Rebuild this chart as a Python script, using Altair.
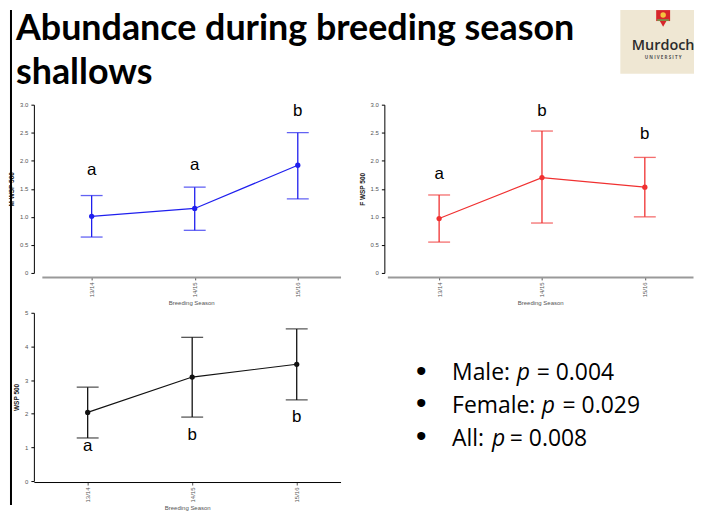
import altair as alt
import pandas as pd

seasons = ["13/14", "14/15", "15/16"]

male_mean = [1.01, 1.15, 1.92]
male_lo = [0.64, 0.76, 1.32]
male_hi = [1.38, 1.53, 2.50]
male_letters = ["a", "a", "b"]
male_letter_y = [1.83, 1.92, 2.88]

female_mean = [0.97, 1.70, 1.53]
female_lo = [0.55, 0.89, 1.00]
female_hi = [1.39, 2.53, 2.06]
female_letters = ["a", "b", "b"]
female_letter_y = [1.76, 2.89, 2.48]

all_mean = [2.04, 3.09, 3.47]
all_lo = [1.28, 1.90, 2.41]
all_hi = [2.79, 4.27, 4.52]
all_letters = ["a", "b", "b"]
all_letter_y = [1.03, 1.38, 1.90]

title_lines = ["Abundance during breeding season", "shallows"]
bullet_labels = ["Male:", "Female:", "All:"]
bullet_values = ["= 0.004", "= 0.029", "= 0.008"]

FONT = "Liberation Sans"


def frame(mean, lo, hi, letters, ly):
    return pd.DataFrame({"season": seasons, "mean": mean, "lo": lo, "hi": hi,
                         "letter": letters, "ly": ly})


def panel(df, color, ytitle, ymax, yvals, rng, pad, align, width, xdom_color,
          xdom_width, xoffset, extra):
    xscale = alt.Scale(type="point", range=rng, padding=pad, align=align)
    xaxis = alt.Axis(title="Breeding Season", labelAngle=270, labelFontSize=6,
                     labelColor="#555", labelFont=FONT, tickSize=3, tickColor="#555",
                     domainColor=xdom_color, domainWidth=xdom_width, offset=xoffset,
                     titleFontSize=6, titleFont=FONT, titleFontWeight="normal",
                     titleColor="#555", titlePadding=3, labelPadding=2, grid=False)
    yscale = alt.Scale(domain=[0, ymax], nice=False, zero=True)
    yaxis = alt.Axis(values=yvals, labelExpr=(
        "datum.value == 0 ? '0' : format(datum.value, '" + (".1f" if ymax == 3 else "d") + "')"),
        labelFontSize=6, labelColor="#555", labelFont=FONT, tickSize=3,
        tickColor="black", domainColor="black", titleFontSize=6.5, titleFont=FONT,
        titleFontWeight="bold", titleColor="#222", titlePadding=5, labelPadding=3,
        grid=False)
    X = alt.X("season:O", sort=seasons, scale=xscale, axis=xaxis, title="Breeding Season")

    def Y(f):
        return alt.Y(f + ":Q", scale=yscale, axis=yaxis, title=ytitle)

    base = alt.Chart(df)
    rules = base.mark_rule(color=color, strokeWidth=1.3).encode(x=X, y=Y("lo"), y2="hi:Q")
    cap_lo = base.mark_tick(color=color, orient="horizontal", size=22, thickness=1.3).encode(x=X, y=Y("lo"))
    cap_hi = base.mark_tick(color=color, orient="horizontal", size=22, thickness=1.3).encode(x=X, y=Y("hi"))
    line = base.mark_line(color=color, strokeWidth=1.2).encode(x=X, y=Y("mean"))
    pts = base.mark_circle(color=color, size=28, opacity=1).encode(x=X, y=Y("mean"))
    letters = base.mark_text(font=FONT, fontSize=17, color="black", baseline="middle").encode(
        x=X, y=Y("ly"), text="letter:N")
    return alt.layer(rules, cap_lo, cap_hi, line, pts, letters, *extra).properties(
        width=width, height=169)


def label(text, x, y, **kw):
    return alt.Chart(pd.DataFrame({"t": [text]})).mark_text(**kw).encode(
        x=alt.value(x), y=alt.value(y), text="t:N")


# decorations for panel 1 (origin at page 32,103)
title1 = label(title_lines[0], -18, -65, font="Lato", fontSize=36, fontWeight="bold",
               align="left", baseline="alphabetic", color="black")
title2 = label(title_lines[1], -18, -21, font="Lato", fontSize=36, fontWeight="bold",
               align="left", baseline="alphabetic", color="black")
border = alt.Chart(pd.DataFrame({"t": [0]})).mark_rule(color="black", strokeWidth=2).encode(
    x=alt.value(-23), y=alt.value(-95), y2=alt.value(402))

# logo for panel 2 (origin at page 384,103)
logo_bg = alt.Chart(pd.DataFrame({"t": [0]})).mark_rect(color="#efe7d3").encode(
    x=alt.value(237), x2=alt.value(311), y=alt.value(-95), y2=alt.value(-31))
shield = alt.Chart(pd.DataFrame({"t": [0]})).mark_rect(color="#d7262b").encode(
    x=alt.value(273), x2=alt.value(287), y=alt.value(-95), y2=alt.value(-84))
shield_tip = alt.Chart(pd.DataFrame({"t": [0]})).mark_point(
    shape="triangle-down", filled=True, color="#d7262b", size=70, opacity=1).encode(
    x=alt.value(280), y=alt.value(-82))
shield_in = alt.Chart(pd.DataFrame({"t": [0]})).mark_point(
    shape="circle", filled=True, color="#f4c23e", size=30, opacity=1).encode(
    x=alt.value(280), y=alt.value(-90))
shield_bar = alt.Chart(pd.DataFrame({"t": [0]})).mark_rule(color="#6aa84f", strokeWidth=1.5).encode(
    x=alt.value(274), x2=alt.value(286), y=alt.value(-85))
logo_t1 = label("Murdoch", 280, -55, font="Open Sans", fontSize=14.5, fontWeight=600,
                align="center", baseline="alphabetic", color="#2b2b2b")
logo_t2 = label("U N I V E R S I T Y", 280, -47, font="Open Sans", fontSize=4.5,
                fontWeight="bold", align="center", baseline="middle", color="#555")

# bullets for panel 3 (origin at page 32,312)
bullets = []
bx = 389
label_x = 420
p_x = [485, 510, 460]
eq_x = [505, 531, 478]
base_y = [68, 101, 134]
dot_y = [60, 92, 125]
for i in range(3):
    bullets.append(label("•", bx, dot_y[i], font="Liberation Sans", fontSize=30, align="center",
                         baseline="middle", color="black"))
    bullets.append(label(bullet_labels[i], label_x, base_y[i], font="Open Sans", fontSize=23,
                         align="left", baseline="alphabetic", color="black"))
    bullets.append(label("p", p_x[i], base_y[i], font="Open Sans", fontSize=23, fontStyle="italic",
                         align="left", baseline="alphabetic", color="black"))
    bullets.append(label(bullet_values[i], eq_x[i], base_y[i], font="Open Sans", fontSize=23,
                         align="left", baseline="alphabetic", color="black"))

p1 = panel(frame(male_mean, male_lo, male_hi, male_letters, male_letter_y), "#1f1fee",
           "M WSP 500", 3, [0, 0.5, 1, 1.5, 2, 2.5, 3], [8, 308], 0.449, 0.538, 310,
           "#999999", 2, 4, [title1, title2, border])
p2 = panel(frame(female_mean, female_lo, female_hi, female_letters, female_letter_y), "#f03030",
           "F WSP 500", 3, [0, 0.5, 1, 1.5, 2, 2.5, 3], [3, 310], 0.486, 0.518, 310,
           "#999999", 2, 4, [logo_bg, shield, shield_tip, shield_in, shield_bar, logo_t1, logo_t2])
p3 = panel(frame(all_mean, all_lo, all_hi, all_letters, all_letter_y), "#111111",
           "WSP 500", 5, [0, 1, 2, 3, 4, 5], [0, 308], 0.467, 0.551, 308,
           "black", 1, 1, bullets)

chart = alt.concat(p1, p2, p3, columns=2, spacing=alt.RowColnumber(row=40, column=42),
                   bounds="flush").properties(
    padding=0, background="white").configure_view(stroke=None)

chart.save("out.html", embed_options={"renderer": "svg", "actions": False})
